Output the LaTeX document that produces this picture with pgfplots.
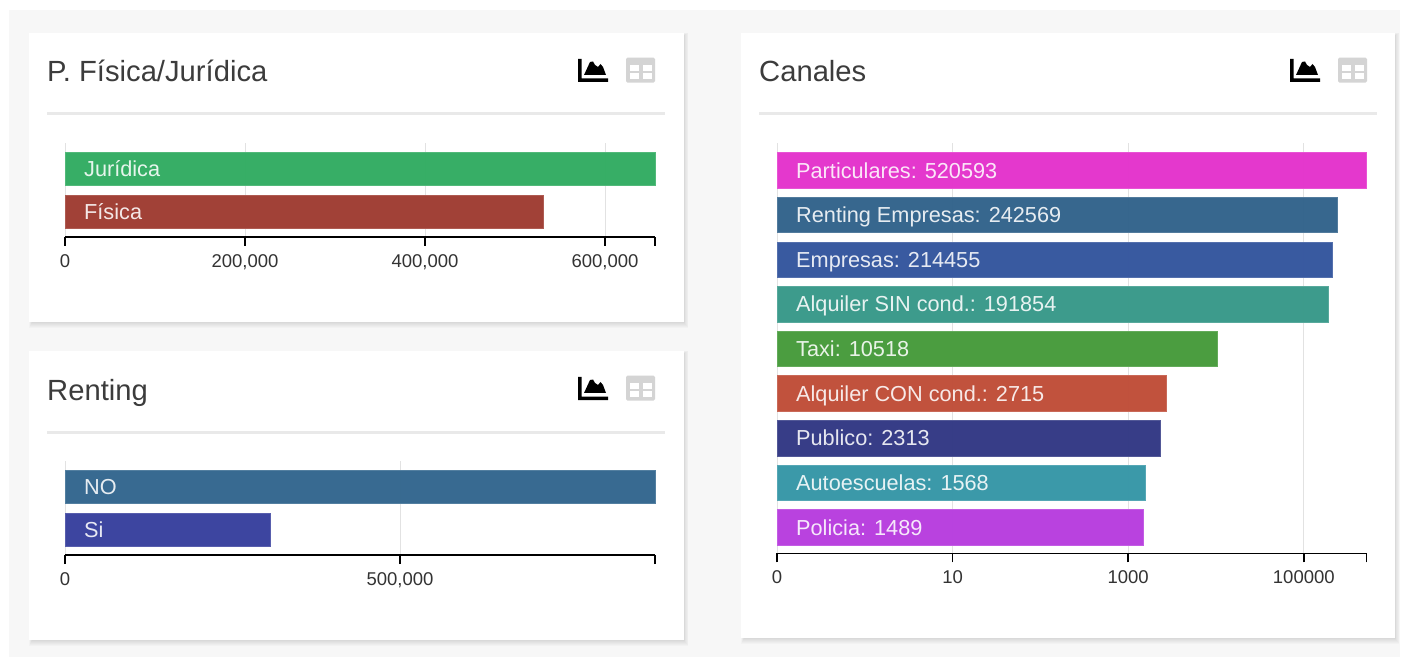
\documentclass[border=0pt]{standalone}
\usepackage{pgfplots}
\pgfplotsset{compat=1.18}
\usepackage{fontspec}
\setmainfont{Liberation Sans}
\definecolor{pagebg}{HTML}{F7F7F7}
\definecolor{rulec}{HTML}{E9E9E9}
\definecolor{titlec}{HTML}{3C3C3C}
\definecolor{gridc}{HTML}{E2E2E2}
\definecolor{cJur}{HTML}{33AD63}
\definecolor{cFis}{HTML}{A03E34}
\definecolor{cNo}{HTML}{35688F}
\definecolor{cSi}{HTML}{3A429F}
\definecolor{cPar}{HTML}{E435CC}
\definecolor{cRen}{HTML}{33648C}
\definecolor{cEmp}{HTML}{36579F}
\definecolor{cSin}{HTML}{3A9A8A}
\definecolor{cTax}{HTML}{489C3D}
\definecolor{cCon}{HTML}{C04F3A}
\definecolor{cPub}{HTML}{333A85}
\definecolor{cAut}{HTML}{3897A8}
\definecolor{cPol}{HTML}{B83FDF}
\pgfplotsset{
  panel/.style={
    scale only axis, clip=false,
    axis x line=bottom, axis y line=none,
    x axis line style={-, line width=1.5pt, black},
    xmajorgrids, grid style={gridc, line width=1pt},
    tick align=outside, major tick length=9pt,
    tick style={black, line width=1.5pt},
    xticklabel style={font=\fontsize{18.5}{20}\selectfont, text=black!80, anchor=north, inner sep=0pt, yshift=-8pt},
    extra x tick style={grid=none},
    scaled x ticks=false,
    ytick=\empty,
  },
}
\tikzset{barlab/.style={anchor=base west, inner sep=0pt, text=white, text opacity=0.88, font=\fontsize{21.7}{24}\selectfont, yshift=-7.5pt}}
\newcommand{\onebar}[4]{\addplot[xbar, bar shift=0pt, bar width=#2pt, fill=#1, fill opacity=0.98, draw=#1!85!white, line width=1pt, forget plot] coordinates {(#3,#4)};}
\newcommand{\logbar}[4]{\addplot[fill=#1, fill opacity=0.98, draw=#1!85!white, line width=1pt, forget plot] coordinates {(-1,#3)(#2,#3)(#2,#4)(-1,#4)} -- cycle;}
\newcommand{\icons}[2]{%
  \begin{scope}[shift={(#1,#2)}]
    \fill[black] (578,598) -- (581.5,598) -- (581.5,578.5) -- (608,578.5) -- (608,575) -- (578,575) -- cycle;
    \fill[black] (584,582) -- (590,595) -- (593,595.5) -- (595,592) -- (598,590) -- (600.5,593) -- (603,590) -- (606,582) -- cycle;
    \fill[black!17, rounded corners=1.5pt] (626,599.3) rectangle (655,574.3);
    \fill[white] (630,592) rectangle (639,586.3);
    \fill[white] (642.7,592) rectangle (651.7,586.3);
    \fill[white] (630,583.7) rectangle (639,577.7);
    \fill[white] (642.7,583.7) rectangle (651.7,577.7);
  \end{scope}}
\newcommand{\card}[4]{%
  \foreach \s in {1,...,6}{\fill[black, opacity=0.02] (#1+3-\s*0.5,#2-\s) rectangle (#3+\s*0.7,#4-3+\s*0.5);}
  \fill[white] (#1,#2) rectangle (#3,#4);}
\begin{document}
\begin{tikzpicture}[x=1pt,y=1pt]
\useasboundingbox (0,0) rectangle (1401,657);
\fill[white] (0,0) rectangle (1401,657);
\fill[pagebg] (9,0) rectangle (1400,647);
\card{29}{335}{684}{624}
\card{29}{17}{684}{306}
\card{741}{19}{1395}{624}
\draw[rulec, line width=3pt] (47,543) -- (665,543);
\draw[rulec, line width=3pt] (47,225) -- (665,225);
\draw[rulec, line width=3pt] (759,543) -- (1377,543);
\node[anchor=base west, inner sep=0pt, text=titlec, font=\fontsize{29.2}{32}\selectfont] at (47,575) {P. Física/Jurídica};
\node[anchor=base west, inner sep=0pt, text=titlec, font=\fontsize{29.2}{32}\selectfont] at (47,257) {Renting};
\node[anchor=base west, inner sep=0pt, text=titlec, font=\fontsize{29.2}{32}\selectfont] at (759,575) {Canales};
\icons{0}{0}
\icons{0}{-318}
\icons{712}{0}

\begin{axis}[panel, at={(65pt,420pt)}, anchor=south west, width=590pt, height=94pt,
  xmin=0, xmax=655500, ymin=-0.581, ymax=1.605,
  xtick={0,200000,400000,600000}, xticklabels={0,{200,000},{400,000},{600,000}},
  extra x ticks={655500}, extra x tick labels={{}}]
\onebar{cJur}{33.5}{655500}{1}
\onebar{cFis}{33.5}{532000}{0}
\node[barlab] at (axis cs:21100,1) {Jurídica};
\node[barlab] at (axis cs:21100,0) {Física};
\end{axis}

\begin{axis}[panel, at={(65pt,102pt)}, anchor=south west, width=590pt, height=94pt,
  xmin=0, xmax=880600, ymin=-0.581, ymax=1.605,
  xtick={0,500000}, xticklabels={0,{500,000}},
  extra x ticks={880600}, extra x tick labels={{}}]
\onebar{cNo}{33.5}{880600}{1}
\onebar{cSi}{33.5}{307000}{0}
\node[barlab] at (axis cs:28300,1) {NO};
\node[barlab] at (axis cs:28300,0) {Si};
\end{axis}

% Canales: log scale, x = log10(value); 0 sits at -1 as in the reference
\begin{axis}[panel, at={(777pt,103.7pt)}, anchor=south west, width=589.7pt, height=410.3pt,
  xmin=-1, xmax=5.7165, ymin=-0.578, ymax=8.617,
  xtick={-1,1,3,5}, xticklabels={0,10,1000,100000},
  extra x ticks={5.7165}, extra x tick labels={{}}]
\logbar{cPol}{3.1729}{-0.398}{0.398}
\logbar{cAut}{3.1953}{0.602}{1.398}
\logbar{cPub}{3.3642}{1.602}{2.398}
\logbar{cCon}{3.4338}{2.602}{3.398}
\logbar{cTax}{4.0219}{3.602}{4.398}
\logbar{cSin}{5.2830}{4.602}{5.398}
\logbar{cEmp}{5.3313}{5.602}{6.398}
\logbar{cRen}{5.3848}{6.602}{7.398}
\logbar{cPar}{5.7165}{7.602}{8.398}
\node[barlab] at (axis cs:-0.7836,0) {Policia: 1489};
\node[barlab] at (axis cs:-0.7836,1) {Autoescuelas: 1568};
\node[barlab] at (axis cs:-0.7836,2) {Publico: 2313};
\node[barlab] at (axis cs:-0.7836,3) {Alquiler CON cond.: 2715};
\node[barlab] at (axis cs:-0.7836,4) {Taxi: 10518};
\node[barlab] at (axis cs:-0.7836,5) {Alquiler SIN cond.: 191854};
\node[barlab] at (axis cs:-0.7836,6) {Empresas: 214455};
\node[barlab] at (axis cs:-0.7836,7) {Renting Empresas: 242569};
\node[barlab] at (axis cs:-0.7836,8) {Particulares: 520593};
\end{axis}
\end{tikzpicture}
\end{document}
